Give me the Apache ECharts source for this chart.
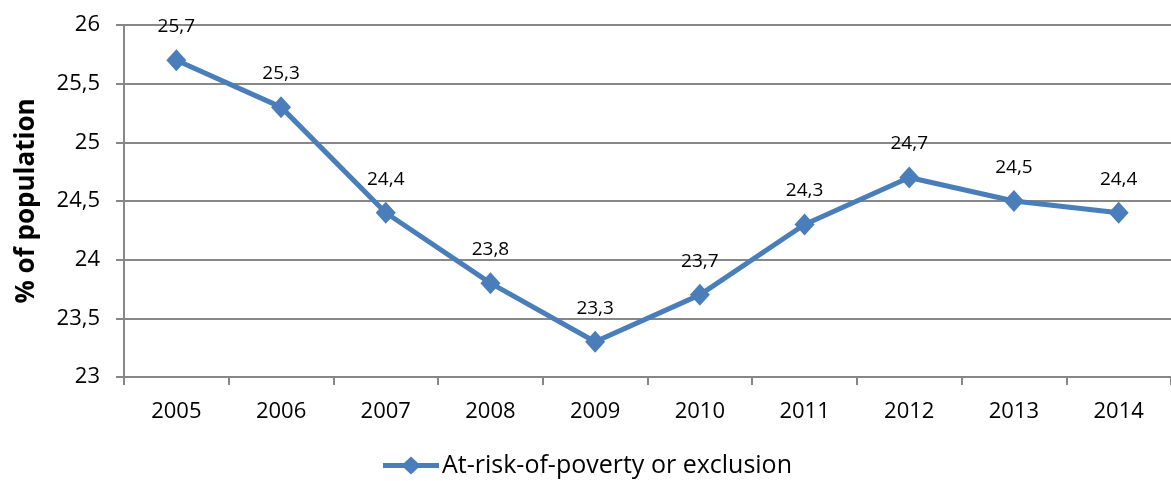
<!DOCTYPE html>
<html>
<head>
<meta charset="utf-8">
<script src="https://cdn.jsdelivr.net/npm/echarts@6/dist/echarts.min.js"></script>
<style>
  html, body { margin: 0; padding: 0; background: #fff; }
  #chart { width: 1171px; height: 481px; }
</style>
</head>
<body>
<div id="chart"></div>
<script>
// Share of population at risk of poverty or social exclusion, by year
const years = ['2005', '2006', '2007', '2008', '2009', '2010', '2011', '2012', '2013', '2014'];
const riskValues = [25.7, 25.3, 24.4, 23.8, 23.3, 23.7, 24.3, 24.7, 24.5, 24.4];
const seriesName = 'At-risk-of-poverty or exclusion';
const yAxisTitle = '% of population';

const FONT = '"Open Sans", Lato, "Liberation Sans", sans-serif';
const comma = v => String(v).replace('.', ',');

const chart = echarts.init(document.getElementById('chart'), null, { renderer: 'canvas' });
chart.setOption({
  animation: false,
  backgroundColor: '#ffffff',
  grid: { left: 124, right: -6, top: 25, bottom: 104, containLabel: false },
  legend: {
    top: 448,
    left: 378,
    itemWidth: 56,
    itemHeight: 18,
    itemGap: 0,
    textStyle: { fontFamily: FONT, fontSize: 25, color: '#000', padding: [0, 0, 0, -2] },
    // line-with-diamond key, drawn as one filled path
    data: [{ name: seriesName, icon: 'path://M0,6.6 L21,6.6 L28,0 L35,6.6 L56,6.6 L56,11.4 L35,11.4 L28,18 L21,11.4 L0,11.4 Z' }]
  },
  xAxis: {
    type: 'category',
    data: years,
    boundaryGap: true,
    axisLine: { lineStyle: { color: '#878787', width: 2 } },
    axisTick: { show: true, length: 8, lineStyle: { color: '#878787', width: 2 } },
    axisLabel: { color: '#000', fontFamily: FONT, fontSize: 22, margin: 24 },
    splitLine: { show: false }
  },
  yAxis: {
    type: 'value',
    min: 23,
    max: 26,
    interval: 0.5,
    name: yAxisTitle,
    nameLocation: 'middle',
    nameGap: 84,
    nameTextStyle: { color: '#000', fontFamily: FONT, fontSize: 26, fontWeight: 'bold' },
    axisLine: { show: true, lineStyle: { color: '#878787', width: 2 } },
    axisTick: { show: true, length: 8, lineStyle: { color: '#878787', width: 2 } },
    axisLabel: { color: '#000', fontFamily: FONT, fontSize: 22, margin: 24, formatter: v => comma(v) },
    splitLine: { show: true, lineStyle: { color: '#878787', width: 2 } }
  },
  series: [{
    name: seriesName,
    type: 'line',
    data: riskValues,
    symbol: 'diamond',
    symbolSize: [20, 22],
    itemStyle: { color: '#4a7ebb' },
    lineStyle: { color: '#4a7ebb', width: 5 },
    label: {
      show: true,
      position: 'top',
      distance: 13,
      color: '#000',
      fontFamily: FONT,
      fontSize: 19,
      formatter: p => comma(p.value)
    }
  }]
});
</script>
</body>
</html>
